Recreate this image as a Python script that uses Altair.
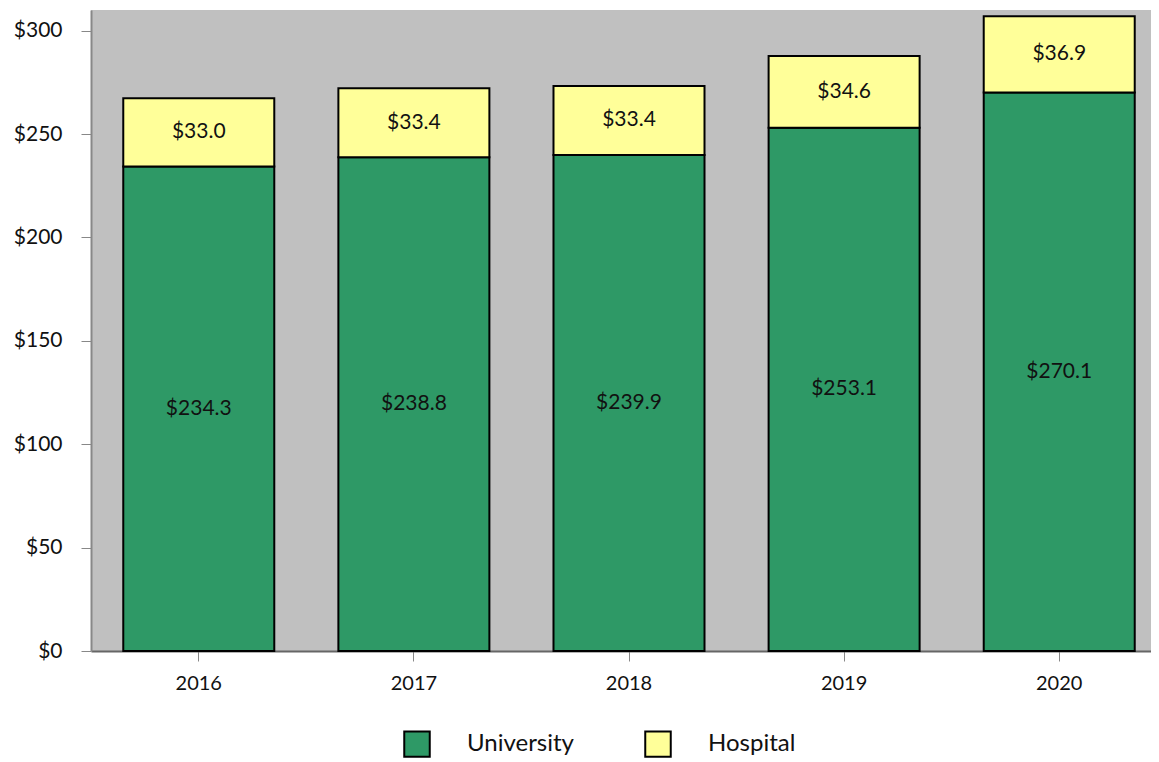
import altair as alt
import pandas as pd

years = ["2016", "2017", "2018", "2019", "2020"]
university = [234.3, 238.8, 239.9, 253.1, 270.1]
hospital = [33.0, 33.4, 33.4, 34.6, 36.9]
series = ["University", "Hospital"]
colors = ["#2E9966", "#FFFF99"]

rows = []
for i, y in enumerate(years):
    rows.append({"year": y, "group": "University", "value": university[i], "order": 0,
                 "mid": university[i] / 2, "label": f"${university[i]:.1f}"})
    rows.append({"year": y, "group": "Hospital", "value": hospital[i], "order": 1,
                 "mid": university[i] + hospital[i] / 2, "label": f"${hospital[i]:.1f}"})
df = pd.DataFrame(rows)

FONT = "Lato"

xscale = alt.Scale(paddingInner=0.298, paddingOuter=0.15, range=[0, 1076])

x = alt.X("year:N", title=None, sort=years, scale=xscale,
          axis=alt.Axis(labelAngle=0, labelFontSize=20, labelColor="#111111", labelPadding=12,
                        tickSize=10, tickColor="#888888", domainColor="#666666", domainWidth=2,
                        labelFont=FONT))

bars = alt.Chart(df).mark_bar(stroke="black", strokeWidth=2).encode(
    x=x,
    y=alt.Y("value:Q", stack="zero", title=None,
            scale=alt.Scale(domain=[0, 310], nice=False),
            axis=alt.Axis(values=[0, 50, 100, 150, 200, 250, 300], grid=False,
                          labelExpr="'$' + datum.value", labelFontSize=21, labelColor="#111111",
                          labelPadding=19, tickSize=10, tickColor="#888888",
                          domainColor="#888888", domainWidth=2, labelFont=FONT)),
    color=alt.Color("group:N", sort=series,
                    scale=alt.Scale(domain=series, range=colors),
                    legend=alt.Legend(title=None, orient="none", direction="horizontal",
                                      legendX=312, legendY=720,
                                      symbolType="square", symbolSize=650,
                                      symbolStrokeColor="black", symbolStrokeWidth=2,
                                      symbolOpacity=1, labelFontSize=24, labelFont=FONT,
                                      labelColor="#111111", labelOffset=36,
                                      columnPadding=67)),
    order=alt.Order("order:Q"),
)

texts = alt.Chart(df).mark_text(fontSize=21, font=FONT, color="#111111").encode(
    x=alt.X("year:N", sort=years, scale=xscale),
    y=alt.Y("mid:Q"),
    text="label:N",
)

chart = (bars + texts).properties(
    width=1060, height=641,
    autosize=alt.AutoSizeParams(type="none"),
    padding={"left": 83, "top": 2, "right": 0, "bottom": 110},
).configure_view(fill="#C0C0C0", stroke=None)

chart.save("out.html", embed_options={"renderer": "svg", "actions": False})
